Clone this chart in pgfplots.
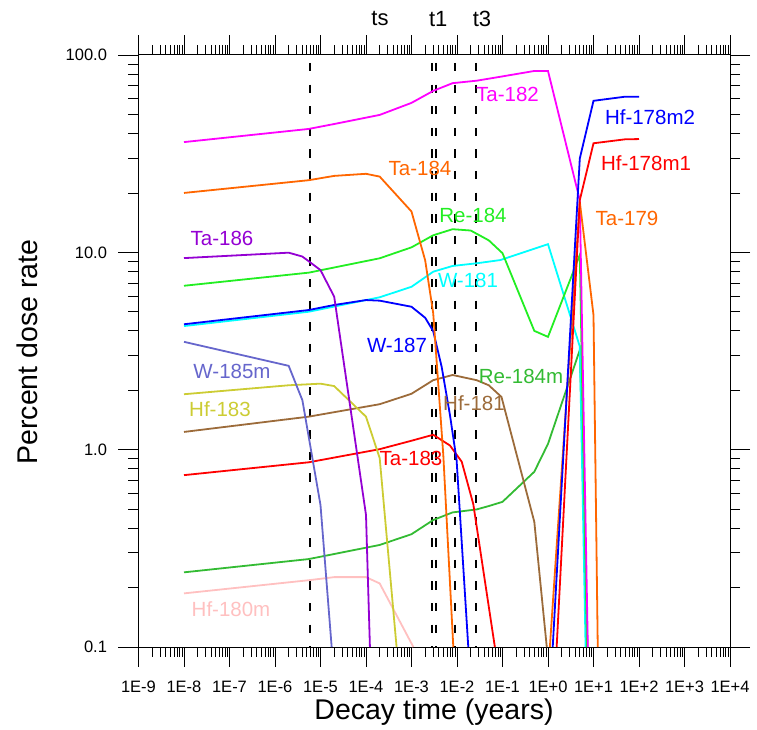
\documentclass[border=0pt]{standalone}
\usepackage{fontspec}
\setmainfont{Liberation Sans}
\usepackage{pgfplots}
\pgfplotsset{compat=1.18}

\definecolor{cMag}{HTML}{FF00FF}
\definecolor{cOrg}{HTML}{FF6600}
\definecolor{cGrn}{HTML}{22EE22}
\definecolor{cCyn}{HTML}{00FFFF}
\definecolor{cBlu}{HTML}{0000FF}
\definecolor{cVio}{HTML}{9400D3}
\definecolor{cSla}{HTML}{6666CC}
\definecolor{cOli}{HTML}{CCCC33}
\definecolor{cBrn}{HTML}{9C6B3A}
\definecolor{cRed}{HTML}{FF0000}
\definecolor{cMgr}{HTML}{33BB33}
\definecolor{cPnk}{HTML}{FFC0C0}

\begin{document}
\begin{tikzpicture}
\useasboundingbox (0pt,0pt) rectangle (757pt,729pt);
\begin{axis}[
    at={(138.5pt,82pt)}, anchor=south west,
    scale only axis, width=591.5pt, height=592pt,
    xmode=log, ymode=log,
    xmin=1e-9, xmax=1e4, ymin=0.1, ymax=100,
    xtick={1e-9,1e-8,1e-7,1e-6,1e-5,1e-4,1e-3,1e-2,1e-1,1,1e1,1e2,1e3,1e4},
    xticklabels={1E-9,1E-8,1E-7,1E-6,1E-5,1E-4,1E-3,1E-2,1E-1,1E+0,1E+1,1E+2,1E+3,1E+4},
    ytick={0.1,1,10,100},
    yticklabels={0.1,1.0,10.0,100.0},
    tick align=outside,
    major tick length=20pt, minor tick length=10pt,
    every tick/.style={black, line width=0.8pt},
    axis line style={black, line width=1pt},
    tick label style={font=\fontsize{16.5}{18}\selectfont},
    xticklabel style={yshift=-11pt},
    yticklabel style={xshift=-8pt},
    every axis plot/.append style={line width=1.8pt},
]

% time markers ts, t1, t3
\addplot[black, line width=2pt, dash pattern=on 8.3pt off 13.3pt, dash phase=13.6pt] coordinates {(5.97e-6,100) (5.97e-6,0.1)};
\addplot[black, line width=2pt, dash pattern=on 8.3pt off 13.3pt, dash phase=13.6pt] coordinates {(2.78e-3,100) (2.78e-3,0.1)};
\addplot[black, line width=2pt, dash pattern=on 8.3pt off 13.3pt, dash phase=13.6pt] coordinates {(3.45e-3,100) (3.45e-3,0.1)};
\addplot[black, line width=2pt, dash pattern=on 8.3pt off 13.3pt, dash phase=13.6pt] coordinates {(9.03e-3,100) (9.03e-3,0.1)};
\addplot[black, line width=2pt, dash pattern=on 8.3pt off 13.3pt, dash phase=13.6pt] coordinates {(2.65e-2,100) (2.65e-2,0.1)};

% Hf-180m
\addplot[cPnk] coordinates {(1e-8,0.187) (5.5e-6,0.218) (2e-5,0.226) (1e-4,0.226) (2e-4,0.210) (1.1e-3,0.1)};
% Re-184m
\addplot[cMgr] coordinates {(1e-8,0.239) (5.5e-6,0.279) (2e-4,0.329) (1e-3,0.373) (3e-3,0.440) (8e-3,0.481) (0.027,0.498) (0.05,0.518) (0.1,0.544) (0.5,0.773) (1,1.07) (5,3.2) (7.4,0.1)};
% Ta-183
\addplot[cRed] coordinates {(1e-8,0.743) (5.5e-6,0.863) (2e-4,1.006) (1e-3,1.11) (3e-3,1.19) (7e-3,1.05) (0.0127,0.869) (0.0228,0.53) (0.068,0.1)};
% Hf-181
\addplot[cBrn] coordinates {(1e-8,1.23) (5.5e-6,1.47) (2e-4,1.70) (1e-3,1.92) (3e-3,2.25) (8e-3,2.39) (0.027,2.25) (0.05,2.12) (0.095,1.85) (0.5,0.431) (0.94,0.1)};
% Hf-183
\addplot[cOli] coordinates {(1e-8,1.91) (2e-6,2.12) (1e-5,2.16) (2e-5,2.10) (1e-4,1.47) (2e-4,0.906) (4.7e-4,0.1)};
% W-185m
\addplot[cSla] coordinates {(1e-8,3.52) (2e-6,2.66) (4e-6,1.78) (1e-5,0.524) (1.76e-5,0.1)};
% W-181
\addplot[cCyn] coordinates {(1e-8,4.23) (5.5e-6,5.0) (2e-4,5.92) (1e-3,6.69) (3e-3,7.98) (8e-3,8.53) (0.027,8.80) (0.09,9.14) (1,11.0) (5,3.33) (6.7,0.1)};
% W-187
\addplot[cBlu] coordinates {(1e-8,4.32) (5.5e-6,5.1) (2e-5,5.41) (1e-4,5.73) (2e-4,5.69) (1e-3,5.30) (2e-3,4.66) (3e-3,3.99) (4.6e-3,2.63) (7e-3,1.50) (9.8e-3,0.885) (0.0177,0.1)};
% Re-184
\addplot[cGrn] coordinates {(1e-8,6.77) (5.5e-6,7.89) (2e-4,9.33) (1e-3,10.6) (3e-3,12.2) (8e-3,13.1) (0.02,12.9) (0.05,11.5) (0.1,9.9) (0.5,4.0) (1,3.73) (5,9.7) (7.2,0.1)};
% Ta-186
\addplot[cVio] coordinates {(1e-8,9.35) (2e-6,9.96) (4e-6,9.52) (1e-5,8.13) (2e-5,5.96) (1e-4,0.467) (1.22e-4,0.1)};
% Ta-184
\addplot[cOrg] coordinates {(1e-8,20.0) (5.5e-6,23.2) (2e-5,24.4) (1e-4,25.0) (2e-4,24.2) (1e-3,16.1) (2e-3,9.1) (3e-3,4.92) (5e-3,0.94) (8.3e-3,0.1)};
% Ta-182
\addplot[cMag] coordinates {(1e-8,36.2) (5.5e-6,42.2) (2e-5,44.7) (2e-4,49.7) (1e-3,57.2) (3e-3,65.8) (8e-3,72) (0.027,74.1) (0.09,77.6) (0.5,83) (1,83) (5,18.4) (7.5,0.1)};
% Ta-179
\addplot[cOrg] coordinates {(1.1,0.1) (5,18.0) (10,4.81) (12.4,0.1)};
% Hf-178m1
\addplot[cRed] coordinates {(1.55,0.1) (5,18.4) (10,35.7) (50,37.4) (100,37.5)};
% Hf-178m2
\addplot[cBlu] coordinates {(1.27,0.1) (5,29.9) (10,58.6) (50,61.5) (100,61.5)};
\end{axis}

% axis titles
\node[font=\fontsize{28.5}{32}\selectfont] at (434pt,17pt) {Decay time (years)};
\node[font=\fontsize{28.5}{32}\selectfont, rotate=90] at (27pt,377pt) {Percent dose rate};

% marker names
\begin{scope}[font=\fontsize{22}{24}\selectfont]
\node at (380pt,710pt) {ts};
\node at (438.3pt,710pt) {t1};
\node at (482pt,710pt) {t3};
\end{scope}

% nuclide labels
\begin{scope}[font=\fontsize{20.5}{23}\selectfont]
\node[text=cMag] at (507.5pt,635pt) {Ta-182};
\node[text=cBlu] at (650pt,612pt) {Hf-178m2};
\node[text=cRed] at (646pt,566pt) {Hf-178m1};
\node[text=cOrg] at (627pt,511pt) {Ta-179};
\node[text=cOrg] at (420pt,561pt) {Ta-184};
\node[text=cGrn] at (473pt,514pt) {Re-184};
\node[text=cCyn] at (468pt,449pt) {W-181};
\node[text=cVio] at (222pt,491pt) {Ta-186};
\node[text=cBlu] at (397pt,384pt) {W-187};
\node[text=cSla] at (232pt,358pt) {W-185m};
\node[text=cOli] at (220pt,320pt) {Hf-183};
\node[text=cMgr] at (521pt,353pt) {Re-184m};
\node[text=cBrn] at (474pt,326pt) {Hf-181};
\node[text=cRed] at (411pt,271pt) {Ta-183};
\node[text=cPnk] at (231pt,120pt) {Hf-180m};
\end{scope}
\end{tikzpicture}
\end{document}
